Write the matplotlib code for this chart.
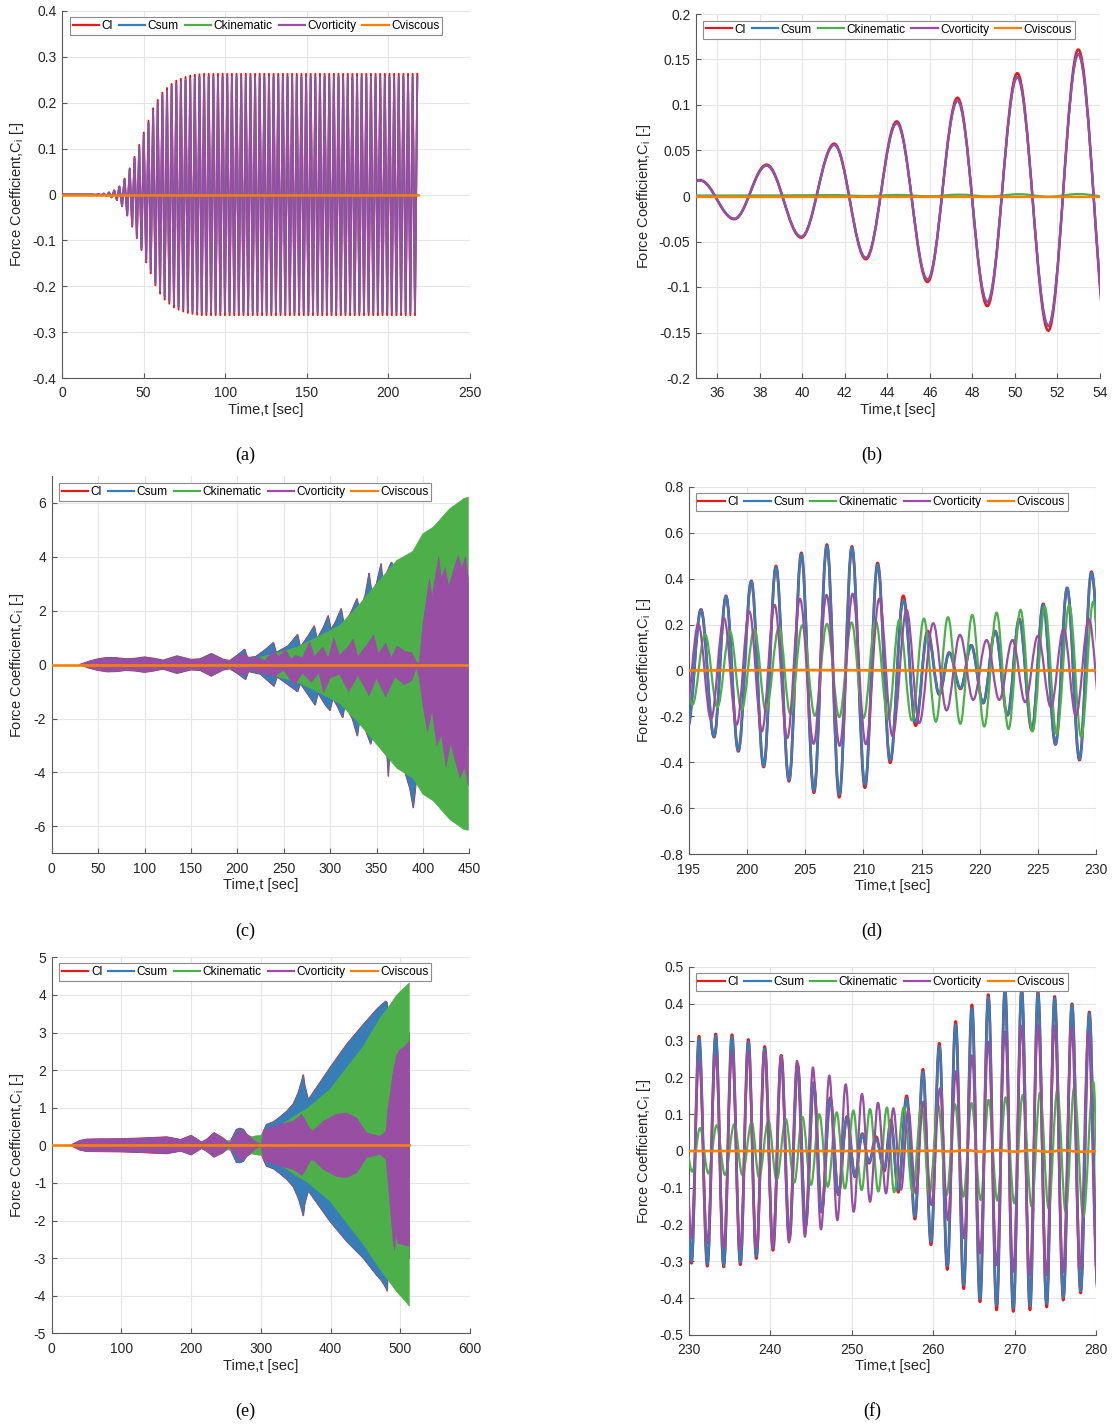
import numpy as np
import matplotlib
matplotlib.use('Agg')
import matplotlib.pyplot as plt
from matplotlib.path import Path
from matplotlib.patches import PathPatch
from matplotlib.lines import Line2D
from matplotlib.ticker import FuncFormatter, MultipleLocator

plt.rcParams['font.family'] = ['Liberation Sans', 'DejaVu Sans']
plt.rcParams['axes.unicode_minus'] = False
plt.rcParams['mathtext.default'] = 'regular'

names = ['Cl', 'Csum', 'Ckinematic', 'Cvorticity', 'Cviscous']
colors = ['#e41a1c', '#377eb8', '#4daf4a', '#984ea3', '#ff7f00']

# ---------------- (a) extrema of the lift history (0-218 s) ----------------
t_a_grow = [0, 19, 20.8, 22.4, 24.0, 25.6, 27.2, 28.8, 30.4, 32.0, 33.6, 35.18, 36.8, 38.32, 39.95,
            41.5, 42.99, 44.44, 45.89, 47.3, 48.7, 50.11, 51.57, 52.98, 54.4, 55.82, 57.24, 58.66,
            60.08, 61.5, 62.92, 64.34, 65.76, 67.18, 68.6, 70.02, 71.44, 72.86, 74.28, 75.7, 77.12,
            78.54, 79.96, 81.38, 82.8, 84.22, 85.64]
cl_a_grow = [0, 0, -0.0007, 0.001, -0.0015, 0.002, -0.003, 0.0045, -0.006, 0.009, -0.012, 0.0176,
             -0.0255, 0.0345, -0.046, 0.057, -0.07, 0.082, -0.095, 0.108, -0.121, 0.135, -0.148,
             0.161, -0.172, 0.188, -0.198, 0.206, -0.216, 0.222, -0.229, 0.232, -0.238, 0.241,
             -0.246, 0.248, -0.251, 0.252, -0.255, 0.256, -0.258, 0.259, -0.26, 0.261, -0.262,
             0.262, -0.263]
cvort_a_grow = [0, 0, -0.0007, 0.001, -0.0015, 0.002, -0.003, 0.0044, -0.006, 0.0088, -0.0118, 0.0172,
                -0.025, 0.0335, -0.045, 0.055, -0.068, 0.079, -0.092, 0.104, -0.117, 0.13, -0.143,
                0.155, -0.167, 0.182, -0.192, 0.2, -0.21, 0.216, -0.222, 0.226, -0.232, 0.235,
                -0.239, 0.241, -0.244, 0.245, -0.248, 0.249, -0.251, 0.252, -0.253, 0.254, -0.255,
                0.255, -0.256]
# saturated part: extrema every half period (~1.42 s) up to 218 s
t_a_plat = np.arange(87.06, 218.0, 1.42)
cl_a_plat = [0.263, -0.263] * 46 + [0.263]
cvort_a_plat = [0.256, -0.256] * 46 + [0.256]
t_a_flat = [0, 218]
ckin_a = [0, 0]
cvisc_a = [0, 0]

# ---------------- (b) zoom 35-54 s, extrema ----------------
t_b = [33.6, 35.18, 36.8, 38.32, 39.95, 41.5, 42.99, 44.44, 45.89, 47.3, 48.7, 50.11, 51.57, 52.98, 54.45]
cl_b = [-0.012, 0.0176, -0.0255, 0.0345, -0.0458, 0.0575, -0.0695, 0.082, -0.0945, 0.108, -0.121,
        0.135, -0.148, 0.161, -0.172]
csum_b = [-0.0115, 0.017, -0.0248, 0.0333, -0.0446, 0.056, -0.0678, 0.0798, -0.0918, 0.1045,
          -0.1165, 0.1305, -0.1425, 0.1555, -0.1665]
cvort_b = [-0.0115, 0.0172, -0.025, 0.0335, -0.0448, 0.0562, -0.068, 0.08, -0.092, 0.105, -0.117,
           0.131, -0.143, 0.156, -0.167]
t_b_kin = [33.6, 38.4, 41.5, 43.0, 44.5, 46.0, 47.4, 48.8, 50.2, 51.6, 53.0, 54.5]
ckin_b = [0.0005, 0.0006, 0.001, 0.0, 0.0012, -0.0003, 0.0015, -0.0005, 0.002, -0.0008, 0.0022, -0.001]
t_b_visc = [33.6, 54.5]
cvisc_b = [-0.001, -0.001]

# ---------------- (c) envelopes of the dense record (0-449 s) ----------------
t_c_sum_up = [30, 40, 50, 60, 70, 80, 90, 100, 110, 120, 135, 150, 160, 172, 185, 192, 200, 208, 211,
              220, 230, 239, 242, 255, 265, 268, 277, 283, 286, 293, 298, 301, 306, 312, 315, 322,
              329, 332, 338, 342, 345, 350, 355, 357, 361, 366, 370, 376, 381, 386, 389, 392, 395,
              400, 449]
csum_c_up = [0, 0.12, 0.21, 0.26, 0.25, 0.21, 0.23, 0.28, 0.23, 0.16, 0.32, 0.19, 0.21, 0.41, 0.19,
             0.15, 0.35, 0.57, 0.25, 0.3, 0.55, 0.82, 0.45, 0.7, 1.12, 0.65, 1.1, 1.44, 0.95, 1.4,
             1.82, 1.3, 1.6, 2.08, 1.5, 1.9, 2.45, 1.95, 2.6, 3.4, 2.65, 3.0, 3.75, 3.0, 3.4, 3.8,
             3.6, 3.9, 3.85, 4.05, 4.15, 4.1, 3.5, 3.0, 3.0]
t_c_sum_lo = [30, 40, 50, 60, 70, 80, 90, 100, 110, 120, 135, 150, 160, 172, 185, 192, 200, 209, 212,
              225, 239.6, 243, 255, 265, 268, 278, 284, 287, 295, 300, 303, 308, 313.6, 316, 324,
              329.4, 332, 338, 343.8, 347, 355, 361.5, 362.8, 364, 372, 380, 386, 389.7, 392, 395,
              400, 449]
csum_c_lo = [0, -0.12, -0.21, -0.26, -0.25, -0.21, -0.23, -0.28, -0.23, -0.16, -0.32, -0.19, -0.21,
             -0.42, -0.19, -0.15, -0.32, -0.55, -0.25, -0.35, -0.8, -0.45, -0.75, -1.0, -0.7, -1.2,
             -1.5, -1.05, -1.5, -1.7, -1.25, -1.55, -1.97, -1.5, -2.0, -2.65, -2.0, -2.4, -2.95,
             -2.5, -3.1, -3.4, -4.15, -3.4, -3.7, -3.9, -4.6, -5.32, -4.6, -3.5, -3.0, -3.0]
t_c_kin = [30, 100, 200, 217, 239, 264, 286, 310, 329, 350, 372, 389, 400, 411, 429, 444, 449]
ckin_c_up = [0, 0.05, 0.15, 0.21, 0.4, 0.64, 1.02, 1.45, 2.13, 3.0, 3.87, 4.2, 4.86, 5.1, 5.79, 6.16, 6.22]
ckin_c_lo = [0, -0.05, -0.15, -0.21, -0.4, -0.64, -1.0, -1.43, -2.1, -2.95, -3.85, -4.2, -4.81,
             -5.05, -5.75, -6.11, -6.15]
t_c_vort_up = [30, 35, 40, 50, 60, 70, 80, 90, 100, 110, 120, 135, 150, 160, 172, 185, 192, 200, 208,
               215, 222, 230, 238, 245, 252, 258, 263, 270, 278, 283, 292, 298, 304, 310, 318, 325,
               330, 340, 347, 352, 360, 366, 372, 380, 388, 393, 396, 400, 403, 407, 410, 414, 417,
               420, 424, 428, 433, 438, 442, 446, 449]
cvort_c_up = [0, 0.05, 0.12, 0.2, 0.25, 0.24, 0.2, 0.22, 0.27, 0.22, 0.15, 0.3, 0.18, 0.2, 0.38, 0.18,
              0.12, 0.3, 0.4, 0.2, 0.28, 0.15, 0.5, 0.3, 0.55, 0.2, 0.35, 0.25, 0.85, 0.3, 0.65,
              0.25, 1.0, 0.35, 0.6, 0.95, 0.3, 0.75, 1.1, 0.4, 0.8, 0.25, 0.7, 0.5, 0.45, 0.1, 0.05,
              1.5, 2.2, 3.2, 2.5, 3.4, 4.0, 3.2, 3.6, 2.9, 3.5, 4.05, 3.6, 4.0, 3.2]
t_c_vort_lo = [30, 35, 40, 50, 60, 70, 80, 90, 100, 110, 120, 135, 150, 160, 172, 185, 192, 200, 208,
               215, 225, 240, 250, 262, 270, 280, 288, 293, 300, 310, 320, 330, 335, 342, 350, 360,
               370, 380, 388, 393, 396, 400, 405, 410, 415, 420, 425, 430, 435, 440, 445, 449]
cvort_c_lo = [0, -0.05, -0.12, -0.2, -0.25, -0.24, -0.2, -0.22, -0.27, -0.22, -0.15, -0.3, -0.18,
              -0.2, -0.4, -0.18, -0.12, -0.3, -0.4, -0.2, -0.3, -0.45, -0.2, -0.78, -0.3, -0.65,
              -0.3, -1.05, -0.5, -0.35, -1.0, -0.4, -0.7, -1.15, -0.5, -1.2, -0.45, -0.75, -0.6,
              -0.1, -0.5, -1.5, -2.5, -1.7, -3.0, -2.6, -3.8, -2.9, -3.6, -4.2, -3.8, -4.5]
t_c_visc = [0, 449]
cvisc_c = [0, 0]

# ---------------- (d) zoom 195-230 s, extrema ----------------
t_d_sum = [194.9, 196.03, 197.15, 198.18, 199.24, 200.36, 201.42, 202.48, 203.6, 204.66, 205.74,
           206.86, 207.92, 209.01, 210.13, 211.22, 212.3, 213.43, 214.49, 215.52, 216.52, 217.38,
           218.35, 219.27, 220.3, 221.33, 222.39, 223.4, 224.49, 225.46, 226.52, 227.52, 228.58,
           229.61, 230.85]
cl_d = [-0.245, 0.266, -0.29, 0.325, -0.352, 0.39, -0.42, 0.455, -0.482, 0.512, -0.532, 0.548,
        -0.552, 0.54, -0.51, 0.468, -0.402, 0.325, -0.24, 0.172, -0.105, 0.078, -0.08, 0.11, -0.142,
        0.172, -0.195, 0.225, -0.26, 0.29, -0.322, 0.36, -0.39, 0.43, -0.455]
csum_d = [-0.24, 0.264, -0.287, 0.322, -0.348, 0.387, -0.415, 0.45, -0.476, 0.506, -0.522, 0.542,
          -0.541, 0.534, -0.497, 0.46, -0.39, 0.307, -0.225, 0.162, -0.10, 0.075, -0.077, 0.108,
          -0.14, 0.17, -0.193, 0.223, -0.258, 0.286, -0.319, 0.358, -0.386, 0.426, -0.45]
t_d_kin = [194.2, 195.29, 196.38, 197.44, 198.52, 199.53, 200.62, 201.62, 202.74, 203.71, 204.74,
           205.83, 206.86, 207.92, 208.98, 210.01, 211.05, 212.13, 213.08, 214.17, 215.2, 216.23,
           217.27, 218.33, 219.36, 220.39, 221.45, 222.48, 223.51, 224.54, 225.6, 226.61, 227.7,
           228.73, 229.76, 230.8]
ckin_d = [0.15, -0.149, 0.158, -0.16, 0.17, -0.171, 0.18, -0.178, 0.189, -0.189, 0.197, -0.197,
          0.203, -0.203, 0.209, -0.207, 0.216, -0.212, 0.22, -0.218, 0.226, -0.223, 0.232, -0.232,
          0.242, -0.244, 0.252, -0.255, 0.264, -0.265, 0.276, -0.276, 0.286, -0.29, 0.30, -0.30]
t_d_vort = [194.7, 195.8, 196.89, 198.01, 199.1, 200.19, 201.27, 202.36, 203.45, 204.54, 205.72,
            206.83, 207.95, 209.07, 210.21, 211.36, 212.5, 213.71, 214.8, 216.0, 217.15, 218.3,
            219.44, 220.59, 221.68, 222.82, 223.91, 225.0, 226.12, 227.21, 228.27, 229.39, 230.5]
cvort_d = [-0.20, 0.202, -0.212, 0.228, -0.236, 0.257, -0.265, 0.286, -0.294, 0.312, -0.319, 0.329,
           -0.328, 0.334, -0.321, 0.312, -0.286, 0.264, -0.229, 0.206, -0.174, 0.155, -0.128, 0.133,
           -0.128, 0.133, -0.138, 0.151, -0.16, 0.18, -0.197, 0.223, -0.22]
t_d_visc = [194, 200, 205, 210, 215, 220, 225, 231]
cvisc_d = [0, 0.001, 0.002, 0.001, 0, 0, 0, 0]

# ---------------- (e) envelopes of the dense record (0-513 s) ----------------
t_e_sum = [27, 40, 50, 100, 130, 165, 185, 200, 215, 222, 233, 245, 255, 265, 270, 275, 280, 292, 300,
           303.5, 308, 318, 327.4, 337, 346.6, 353.7, 358.5, 360.9, 363, 368.1, 399.2, 423, 447,
           466, 473.2, 479.5, 481.4, 483, 513]
csum_e_up = [0, 0.12, 0.16, 0.17, 0.19, 0.22, 0.15, 0.26, 0.08, 0.15, 0.33, 0.2, 0.05, 0.42, 0.45,
             0.42, 0.28, 0.15, 0.2, 0.36, 0.55, 0.62, 0.75, 0.9, 1.1, 1.4, 1.7, 1.88, 1.6, 1.21,
             2.06, 2.68, 3.21, 3.61, 3.74, 3.83, 3.78, 3.0, 3.0]
csum_e_lo = [0, -0.12, -0.16, -0.17, -0.19, -0.22, -0.15, -0.25, -0.08, -0.15, -0.31, -0.2, -0.05,
             -0.45, -0.46, -0.42, -0.28, -0.15, -0.2, -0.36, -0.55, -0.62, -0.75, -0.9, -1.1, -1.4,
             -1.7, -1.88, -1.55, -1.21, -2.02, -2.55, -3.0, -3.45, -3.6, -3.79, -3.88, -3.0, -3.0]
t_e_kin = [27, 100, 200, 280, 285, 292, 300, 310, 330, 350, 366, 399, 423, 447, 471, 481, 495, 505, 513]
ckin_e_up = [0, 0.03, 0.08, 0.15, 0.22, 0.25, 0.27, 0.35, 0.55, 0.8, 0.97, 1.48, 2.06, 2.63, 3.39,
             3.62, 4.0, 4.18, 4.32]
ckin_e_lo = [0, -0.03, -0.08, -0.15, -0.22, -0.25, -0.27, -0.35, -0.55, -0.8, -0.97, -1.48, -2.06,
             -2.63, -3.3, -3.55, -3.9, -4.1, -4.28]
t_e_vort_up = [27, 32, 40, 50, 70, 100, 130, 165, 185, 200, 215, 222, 233, 245, 255, 270, 280, 292,
               300, 304, 310, 327, 346.6, 358.5, 363, 370.5, 375.3, 389.6, 408.7, 423, 437.4, 451.7,
               470.8, 479.5, 482.8, 485, 490, 494.8, 499.5, 505, 513]
cvort_e_up = [0, 0.05, 0.12, 0.16, 0.17, 0.17, 0.19, 0.22, 0.15, 0.26, 0.08, 0.15, 0.33, 0.2, 0.05,
              0.42, 0.3, 0.1, 0.03, 0.4, 0.45, 0.55, 0.64, 0.82, 0.7, 0.42, 0.39, 0.64, 0.83, 0.86,
              0.73, 0.33, 0.24, 0.37, 1.08, 1.3, 1.97, 2.4, 2.55, 2.6, 2.77]
t_e_vort_lo = [27, 32, 40, 50, 70, 100, 130, 165, 185, 200, 215, 222, 233, 245, 255, 270, 280, 292,
               300, 304, 310, 327, 346.6, 358.5, 363, 370.5, 375.3, 389.6, 408.7, 423, 437.4, 451.7,
               470.8, 479.5, 482.8, 486, 490, 492, 494, 496, 505, 513]
cvort_e_lo = [0, -0.05, -0.12, -0.16, -0.17, -0.17, -0.19, -0.22, -0.15, -0.24, -0.08, -0.15, -0.3,
              -0.2, -0.05, -0.4, -0.3, -0.1, -0.03, -0.4, -0.45, -0.55, -0.64, -0.8, -0.7, -0.42,
              -0.39, -0.64, -0.83, -0.86, -0.73, -0.33, -0.24, -0.37, -1.05, -1.75, -2.6, -2.8,
              -2.3, -2.6, -2.65, -2.69]
t_e_visc = [0, 513]
cvisc_e = [0, 0]

# ---------------- (f) zoom 230-280 s, extrema ----------------
t_f_sum = [229.3, 230.3, 231.23, 232.25, 233.28, 234.26, 235.28, 236.31, 237.29, 238.27,
           239.3, 240.32, 241.34, 242.33, 243.35, 244.33, 245.32, 246.3, 247.36, 248.35,
           249.41, 250.39, 251.29, 252.11, 252.97, 253.99, 254.8, 255.71, 256.74, 257.76,
           258.74, 259.73, 260.75, 261.73, 262.76, 263.74, 264.76, 265.75, 266.77, 267.79,
           268.82, 269.84, 270.87, 271.89, 272.87, 273.94, 274.92, 275.98, 277.05, 278.11,
           279.18, 280.2]
cl_f = [0.305, -0.305, 0.312, -0.313, 0.318, -0.315, 0.316, -0.309, 0.303, -0.292,
        0.284, -0.27, 0.26, -0.24, 0.236, -0.204, 0.186, -0.166, 0.145, -0.119,
        0.094, -0.07, 0.047, -0.033, 0.039, -0.054, 0.084, -0.112, 0.15, -0.185,
        0.222, -0.255, 0.293, -0.322, 0.352, -0.374, 0.397, -0.41, 0.425, -0.432,
        0.44, -0.436, 0.442, -0.432, 0.432, -0.424, 0.42, -0.405, 0.4, -0.386,
        0.378, -0.375]
csum_f = [0.30, -0.30, 0.305, -0.307, 0.312, -0.31, 0.31, -0.303, 0.297, -0.286,
          0.278, -0.264, 0.255, -0.235, 0.232, -0.2, 0.183, -0.163, 0.142, -0.116,
          0.092, -0.068, 0.045, -0.03, 0.032, -0.048, 0.078, -0.105, 0.142, -0.178,
          0.215, -0.247, 0.285, -0.312, 0.343, -0.364, 0.388, -0.402, 0.418, -0.42,
          0.435, -0.428, 0.437, -0.422, 0.428, -0.415, 0.415, -0.398, 0.396, -0.38,
          0.373, -0.37]
t_f_kin = [229.3, 230.4, 231.35, 232.38, 233.4, 234.42, 235.57, 236.55, 237.7, 238.6,
           239.75, 240.77, 241.88, 242.94, 243.92, 244.99, 246.01, 247.04, 248.14, 249.16,
           250.19, 251.21, 252.24, 253.26, 254.32, 255.2, 256.4, 257.47, 258.58, 259.52,
           260.63, 261.65, 262.67, 263.7, 264.72, 265.83, 266.81, 267.88, 268.9, 269.96,
           270.99, 272.1, 273.12, 274.18, 275.25, 276.27, 277.33, 278.44, 279.67, 280.45]
ckin_f = [0.058, -0.056, 0.0625, -0.061, 0.07, -0.065, 0.073, -0.065, 0.078, -0.072,
          0.082, -0.079, 0.087, -0.086, 0.093, -0.092, 0.10, -0.097, 0.105, -0.102,
          0.11, -0.106, 0.114, -0.11, 0.118, -0.112, 0.119, -0.113, 0.125, -0.118,
          0.122, -0.12, 0.127, -0.124, 0.13, -0.133, 0.139, -0.135, 0.146, -0.142,
          0.152, -0.151, 0.159, -0.156, 0.166, -0.165, 0.173, -0.178, 0.188, -0.19]
t_f_vort = [229.25, 230.25, 231.23, 232.25, 233.28, 234.26, 235.28, 236.27, 237.29, 238.27,
            239.3, 240.28, 241.3, 242.28, 243.27, 244.25, 245.23, 246.22, 247.24, 248.22,
            249.25, 250.23, 251.25, 252.24, 253.22, 254.2, 255.1, 256.05, 256.95, 257.85,
            258.78, 259.8, 260.83, 261.81, 262.8, 263.78, 264.76, 265.75, 266.77, 267.79,
            268.82, 269.84, 270.83, 271.85, 272.87, 273.89, 274.92, 275.94, 277.0, 278.03,
            279.05, 280.1]
cvort_f = [0.24, -0.238, 0.247, -0.251, 0.261, -0.264, 0.267, -0.267, 0.27, -0.264,
           0.267, -0.26, 0.259, -0.248, 0.245, -0.233, 0.227, -0.213, 0.205, -0.188,
           0.181, -0.165, 0.155, -0.138, 0.131, -0.115, 0.116, -0.105, 0.112, -0.115,
           0.134, -0.147, 0.17, -0.188, 0.217, -0.237, 0.26, -0.278, 0.297, -0.31,
           0.324, -0.328, 0.34, -0.337, 0.342, -0.337, 0.34, -0.33, 0.336, -0.32,
           0.324, -0.325]
t_f_visc = [229, 240, 250, 258, 260, 262, 264, 266, 268, 270, 272, 274, 276, 278, 281]
cvisc_f = [0, 0, 0, 0, 0.001, -0.001, 0.002, -0.002, 0.002, -0.002, 0.002, -0.002, 0.002, -0.002, 0]


W, H = 1115.0, 1426.0
fig = plt.figure(figsize=(W / 100, H / 100), dpi=100)


def add_axes(left, top, right, bottom):
    return fig.add_axes([left / W, 1 - bottom / H, (right - left) / W, (bottom - top) / H])


def smooth(ax, t, v, color, lw, z):
    # smooth curve through the extrema (horizontal tangent at every extremum)
    verts = [(t[0], v[0])]
    codes = [Path.MOVETO]
    for i in range(len(t) - 1):
        d = t[i + 1] - t[i]
        verts += [(t[i] + 0.36 * d, v[i]), (t[i + 1] - 0.36 * d, v[i + 1]), (t[i + 1], v[i + 1])]
        codes += [Path.CURVE4] * 3
    ax.add_patch(PathPatch(Path(verts, codes), fill=False, edgecolor=color, lw=lw, zorder=z,
                           joinstyle='round', capstyle='round'))


def band(ax, t_up, up, t_lo, lo, color, z, edge=None, elw=0.4):
    x = np.concatenate([t_up, t_lo[::-1]])
    y = np.concatenate([up, lo[::-1]])
    ax.fill(x, y, facecolor=color, edgecolor=edge or color, lw=elw, zorder=z)


def finish(ax, xlim, xstep, ylim, ystep, ylab_x, xlab_y, leg_x, leg_top):
    ax.set_xlim(*xlim)
    ax.set_ylim(*ylim)
    ax.xaxis.set_major_locator(MultipleLocator(xstep))
    ax.yaxis.set_major_locator(MultipleLocator(ystep))
    fmt = FuncFormatter(lambda v, p: '%g' % (round(v, 6) + 0.0))
    ax.xaxis.set_major_formatter(fmt)
    ax.yaxis.set_major_formatter(fmt)
    ax.grid(True, color='#e6e6e6', lw=0.8)
    ax.set_axisbelow(True)
    for s in ['top', 'right']:
        ax.spines[s].set_visible(False)
    for s in ['left', 'bottom']:
        ax.spines[s].set_color('#5a5a5a')
        ax.spines[s].set_linewidth(0.8)
    ax.tick_params(direction='in', length=3.5, width=0.8, color='#5a5a5a', labelcolor='#262626',
                   labelsize=10)
    ax.tick_params(axis='x', pad=6)
    ax.tick_params(axis='y', pad=4)
    ax.set_xlabel('Time,t [sec]', fontsize=10.5, color='#262626')
    ax.set_ylabel('Force Coefficient,C$_i$ [-]', fontsize=10.5, color='#262626')
    ax.xaxis.set_label_coords(0.5, xlab_y)
    ax.yaxis.set_label_coords(ylab_x, 0.5)
    handles = [Line2D([], [], color=c, lw=1.6) for c in colors]
    leg = ax.legend(handles, names, ncol=5, loc='upper left', bbox_to_anchor=(leg_x, leg_top),
                    fontsize=8.6, handlelength=2.2, handletextpad=0.2, columnspacing=0.5,
                    borderpad=0.25, borderaxespad=0, frameon=True, fancybox=False,
                    edgecolor='#8c8c8c', framealpha=1)
    leg.get_frame().set_linewidth(0.8)
    leg.set_zorder(20)


# (a)
ax = add_axes(62, 11, 470, 378)
t_a = np.concatenate([t_a_grow, t_a_plat])
ax.plot(t_a, cl_a_grow + cl_a_plat, color=colors[0], lw=1.4, zorder=2)
# Csum follows Cvorticity here (Ckinematic and Cviscous stay at zero)
ax.plot(t_a, cvort_a_grow + cvort_a_plat, color=colors[1], lw=1.3, zorder=3)
ax.plot(t_a_flat, ckin_a, color=colors[2], lw=1.5, zorder=4)
ax.plot(t_a, cvort_a_grow + cvort_a_plat, color=colors[3], lw=1.3, zorder=5)
ax.plot(t_a_flat, cvisc_a, color=colors[4], lw=1.8, zorder=6)
finish(ax, (0, 250), 50, (-0.4, 0.4), 0.1, -0.088, -0.068, 0.02, 0.984)

# (b)
ax = add_axes(696, 14, 1100, 378)
smooth(ax, t_b, cl_b, colors[0], 1.8, 2)
smooth(ax, t_b, csum_b, colors[1], 1.6, 3)
smooth(ax, t_b_kin, ckin_b, colors[2], 1.6, 4)
smooth(ax, t_b, cvort_b, colors[3], 1.6, 5)
smooth(ax, t_b_visc, cvisc_b, colors[4], 1.8, 6)
finish(ax, (35, 54), 2, (-0.2, 0.2), 0.05, -0.106, -0.069, 0.017, 0.982)

# (c)
ax = add_axes(51.7, 476, 469.3, 853.3)
band(ax, t_c_sum_up, csum_c_up, t_c_sum_lo, csum_c_lo, colors[0], 2, edge=colors[0], elw=1.0)
band(ax, t_c_sum_up, csum_c_up, t_c_sum_lo, csum_c_lo, colors[1], 3)
band(ax, t_c_kin, ckin_c_up, t_c_kin, ckin_c_lo, colors[2], 4)
band(ax, t_c_vort_up, cvort_c_up, t_c_vort_lo, cvort_c_lo, colors[3], 5)
ax.plot(t_c_visc, cvisc_c, color=colors[4], lw=1.9, zorder=6)
finish(ax, (0, 450), 50, (-7, 7), 2, -0.061, -0.065, 0.018, 0.981)

# (d)
ax = add_axes(689, 486.7, 1096, 854.3)
smooth(ax, t_d_sum, cl_d, colors[0], 2.0, 2)
smooth(ax, t_d_sum, csum_d, colors[1], 1.8, 3)
smooth(ax, t_d_kin, ckin_d, colors[2], 1.6, 4)
smooth(ax, t_d_vort, cvort_d, colors[3], 1.6, 5)
smooth(ax, t_d_visc, cvisc_d, colors[4], 1.9, 6)
finish(ax, (195, 230), 5, (-0.8, 0.8), 0.2, -0.088, -0.067, 0.016, 0.982)

# (e)
ax = add_axes(51.7, 957.3, 470, 1333.3)
band(ax, t_e_sum, csum_e_up, t_e_sum, csum_e_lo, colors[0], 2, edge=colors[0], elw=1.0)
band(ax, t_e_sum, csum_e_up, t_e_sum, csum_e_lo, colors[1], 3)
band(ax, t_e_kin, ckin_e_up, t_e_kin, ckin_e_lo, colors[2], 4)
band(ax, t_e_vort_up, cvort_e_up, t_e_vort_lo, cvort_e_lo, colors[3], 5)
ax.plot(t_e_visc, cvisc_e, color=colors[4], lw=1.9, zorder=6)
finish(ax, (0, 600), 100, (-5, 5), 1, -0.061, -0.068, 0.018, 0.984)

# (f)
ax = add_axes(689, 967, 1096, 1335)
smooth(ax, t_f_sum, cl_f, colors[0], 2.0, 2)
smooth(ax, t_f_sum, csum_f, colors[1], 1.8, 3)
smooth(ax, t_f_kin, ckin_f, colors[2], 1.6, 4)
smooth(ax, t_f_vort, cvort_f, colors[3], 1.6, 5)
smooth(ax, t_f_visc, cvisc_f, colors[4], 1.9, 6)
finish(ax, (230, 280), 10, (-0.5, 0.5), 0.1, -0.088, -0.064, 0.016, 0.983)

for x, y, s in [(245.5, 455, '(a)'), (872, 455, '(b)'), (245.5, 931.5, '(c)'),
                (872, 931.5, '(d)'), (245.5, 1411.5, '(e)'), (872, 1411.5, '(f)')]:
    fig.text(x / W, 1 - y / H, s, ha='center', va='center', fontsize=13,
             family=['Liberation Serif', 'DejaVu Serif'])

fig.savefig('out.png', dpi=100)
